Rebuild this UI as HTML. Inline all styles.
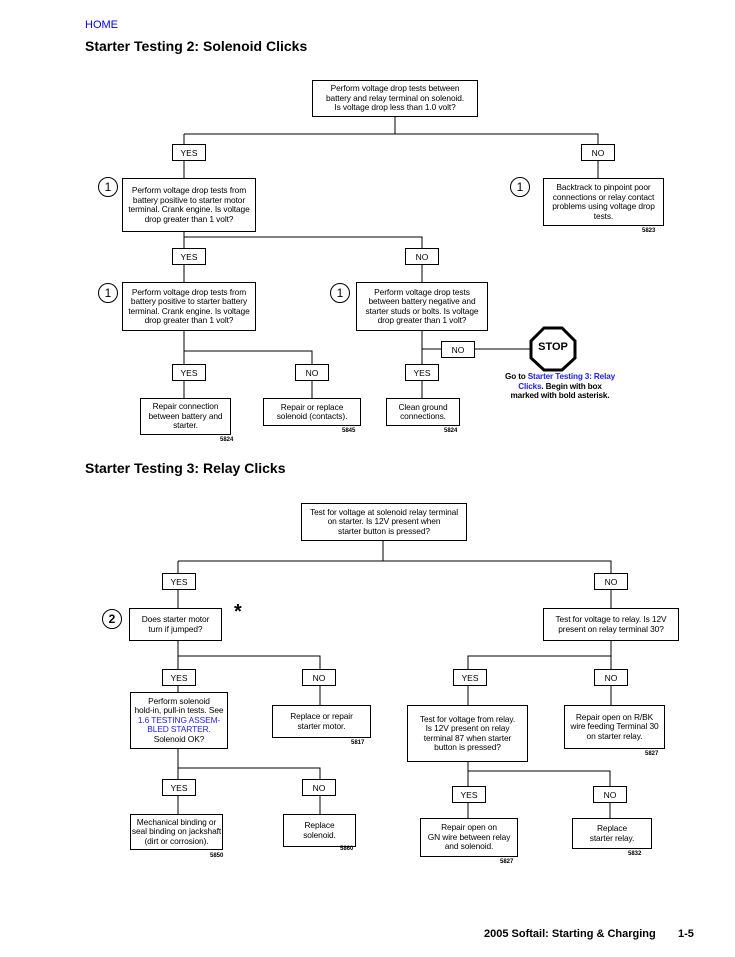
<!DOCTYPE html>
<html><head><meta charset="utf-8"><style>
body{margin:0;background:#fff;width:735px;height:957px;position:relative;overflow:hidden;font-family:"Liberation Sans",Arial,sans-serif;color:#000}
.b{position:absolute;border:1px solid #000;box-sizing:border-box;display:flex;align-items:center;justify-content:center;text-align:center;font-size:8.4px;line-height:9.5px;background:#fff;white-space:nowrap;letter-spacing:-0.1px}
.l{position:absolute;border:1px solid #000;box-sizing:border-box;background:#fff;font-size:8.5px;display:flex;align-items:center;justify-content:center;width:34px;height:17px}
.c{position:absolute;width:20px;height:20px;border:1.3px solid #000;border-radius:50%;box-sizing:border-box;font-size:12px;display:flex;align-items:center;justify-content:center;background:#fff}
.n{position:absolute;font-size:6px;font-weight:bold}
.t{position:absolute;font-weight:bold;font-size:14px;left:85px}
a{color:#00e}
.bl{color:#22e}
svg{position:absolute;left:0;top:0}
</style></head><body>
<svg width="735" height="957" stroke="#000" stroke-width="1" fill="none">
<path d="M395 117V134M184 134H598V144M184 134V144M184 160V178M598 160V178"/>
<path d="M184 232V237H422V248M184 237V248M184 263V282M422 263V282"/>
<path d="M184 331V351H312V364M184 351V364M184 379V398M312 379V398"/>
<path d="M422 331V364M422 349H441M474 349H532M422 379V398"/>
<path d="M383 541V561M178 561H611V573M178 561V573M178 589V608M611 589V608"/>
<path d="M178 641V656H320V669M178 656V669M178 685V692M320 685V705"/>
<path d="M178 749V768H320V779M178 768V779M178 795V814M320 795V814"/>
<path d="M611 641V656H468V669M611 656V669M468 685V705M611 685V705"/>
<path d="M468 762V771H610V786M468 771V786M468 802V818M610 802V818"/>
<polygon points="544,328 562,328 575,341 575,358 562,370 544,370 531,358 531,341" stroke-width="3" fill="#fff"/>
</svg>
<div style="position:absolute;left:85px;top:19px;font-size:11px"><a>HOME</a></div>
<div class="t" style="top:38px">Starter Testing 2: Solenoid Clicks</div>
<div class="b" style="left:312px;top:80px;width:166px;height:37px"><div>Perform voltage drop tests between<br>battery and relay terminal on solenoid.<br>Is voltage drop less than 1.0 volt?</div></div>
<div class="l" style="left:172px;top:144px">YES</div>
<div class="l" style="left:581px;top:144px">NO</div>
<div class="c" style="left:98px;top:177px">1</div>
<div class="b" style="left:122px;top:178px;width:134px;height:54px"><div>Perform voltage drop tests from<br>battery positive to starter motor<br>terminal. Crank engine. Is voltage<br>drop greater than 1 volt?</div></div>
<div class="c" style="left:510px;top:177px">1</div>
<div class="b" style="left:543px;top:178px;width:121px;height:48px"><div>Backtrack to pinpoint poor<br>connections or relay contact<br>problems using voltage drop<br>tests.</div></div>
<div class="n" style="left:642px;top:228px">5823</div>
<div class="l" style="left:172px;top:248px">YES</div>
<div class="l" style="left:405px;top:248px">NO</div>
<div class="c" style="left:98px;top:283px">1</div>
<div class="b" style="left:122px;top:282px;width:134px;height:49px"><div>Perform voltage drop tests from<br>battery positive to starter battery<br>terminal. Crank engine. Is voltage<br>drop greater than 1 volt?</div></div>
<div class="c" style="left:330px;top:283px">1</div>
<div class="b" style="left:356px;top:282px;width:132px;height:49px"><div>Perform voltage drop tests<br>between battery negative and<br>starter studs or bolts. Is voltage<br>drop greater than 1 volt?</div></div>
<div class="l" style="left:441px;top:341px">NO</div>
<div style="position:absolute;left:531px;top:341px;width:44px;text-align:center;font-weight:bold;font-size:11px">STOP</div>
<div style="position:absolute;left:490px;top:372px;width:140px;text-align:center;font-weight:bold;font-size:8.2px;line-height:9.5px;letter-spacing:-0.15px">Go to <span class="bl">Starter Testing 3: Relay<br>Clicks</span>. Begin with box<br>marked with bold asterisk.</div>
<div class="l" style="left:172px;top:364px">YES</div>
<div class="l" style="left:295px;top:364px">NO</div>
<div class="l" style="left:405px;top:364px">YES</div>
<div class="b" style="left:140px;top:398px;width:91px;height:37px"><div>Repair connection<br>between battery and<br>starter.</div></div>
<div class="n" style="left:220px;top:437px">5824</div>
<div class="b" style="left:263px;top:398px;width:98px;height:28px"><div>Repair or replace<br>solenoid (contacts).</div></div>
<div class="n" style="left:342px;top:428px">5845</div>
<div class="b" style="left:386px;top:398px;width:74px;height:28px"><div>Clean ground<br>connections.</div></div>
<div class="n" style="left:444px;top:428px">5824</div>
<div class="t" style="top:460px">Starter Testing 3: Relay Clicks</div>
<div class="b" style="left:301px;top:503px;width:166px;height:38px"><div>Test for voltage at solenoid relay terminal<br>on starter. Is 12V present when<br>starter button is pressed?</div></div>
<div class="l" style="left:162px;top:573px">YES</div>
<div class="l" style="left:594px;top:573px">NO</div>
<div class="c" style="left:102px;top:609px;font-weight:bold">2</div>
<div class="b" style="left:129px;top:608px;width:93px;height:33px"><div>Does starter motor<br>turn if jumped?</div></div>
<div style="position:absolute;left:234px;top:601px;font-size:20px;font-weight:bold">*</div>
<div class="b" style="left:543px;top:608px;width:136px;height:33px"><div>Test for voltage to relay. Is 12V<br>present on relay terminal 30?</div></div>
<div class="l" style="left:162px;top:669px">YES</div>
<div class="l" style="left:302px;top:669px">NO</div>
<div class="l" style="left:453px;top:669px">YES</div>
<div class="l" style="left:594px;top:669px">NO</div>
<div class="b" style="left:130px;top:692px;width:98px;height:57px"><div>Perform solenoid<br>hold-in, pull-in tests. See<br><span class="bl">1.6 TESTING ASSEM-<br>BLED STARTER.</span><br>Solenoid OK?</div></div>
<div class="b" style="left:272px;top:705px;width:99px;height:33px"><div>Replace or repair<br>starter motor.</div></div>
<div class="n" style="left:351px;top:740px">5817</div>
<div class="b" style="left:407px;top:705px;width:121px;height:57px"><div>Test for voltage from relay.<br>Is 12V present on relay<br>terminal 87 when starter<br>button is pressed?</div></div>
<div class="b" style="left:564px;top:705px;width:101px;height:44px"><div>Repair open on R/BK<br>wire feeding Terminal 30<br>on starter relay.</div></div>
<div class="n" style="left:645px;top:751px">5827</div>
<div class="l" style="left:162px;top:779px">YES</div>
<div class="l" style="left:302px;top:779px">NO</div>
<div class="l" style="left:452px;top:786px">YES</div>
<div class="l" style="left:593px;top:786px">NO</div>
<div class="b" style="left:130px;top:814px;width:93px;height:36px"><div>Mechanical binding or<br>seal binding on jackshaft<br>(dirt or corrosion).</div></div>
<div class="n" style="left:210px;top:853px">5850</div>
<div class="b" style="left:283px;top:814px;width:73px;height:33px"><div>Replace<br>solenoid.</div></div>
<div class="n" style="left:340px;top:846px">5860</div>
<div class="b" style="left:420px;top:818px;width:98px;height:39px"><div>Repair open on<br>GN wire between relay<br>and solenoid.</div></div>
<div class="n" style="left:500px;top:859px">5827</div>
<div class="b" style="left:572px;top:818px;width:80px;height:31px"><div>Replace<br>starter relay.</div></div>
<div class="n" style="left:628px;top:851px">5832</div>
<div style="position:absolute;left:484px;top:928px;font-size:11px;font-weight:bold">2005 Softail: Starting &amp; Charging</div>
<div style="position:absolute;left:678px;top:928px;font-size:11px;font-weight:bold">1-5</div>
</body></html>
